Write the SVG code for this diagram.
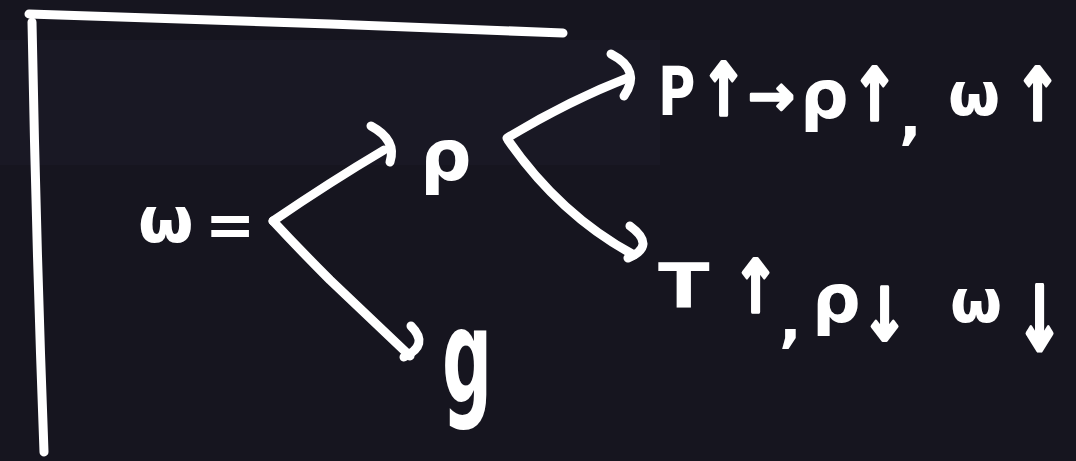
<svg xmlns="http://www.w3.org/2000/svg" width="1076" height="461" viewBox="0 0 1076 461">
<style>
.ln{fill:none;stroke:#ffffff;stroke-width:9;stroke-linecap:round;stroke-linejoin:round}
.t{fill:#ffffff;font-family:"DejaVu Sans","Liberation Sans",sans-serif;font-weight:bold}
.ar{stroke:#ffffff;stroke-width:2.5;stroke-linejoin:round}
</style>
<rect width="1076" height="461" fill="#16151f"/>
<rect x="0" y="40" width="660" height="125" fill="#191824"/>
<g id="frame">
<path class="ln" d="M29,14 L330,24 L563,33"/>
<path class="ln" d="M32,22 Q36,240 44,452"/>
</g>
<g id="connectors">
<path class="ln" d="M273,221 Q330,182 384,150"/>
<path class="ln" d="M371,126 Q397,140 390,162"/>
<path class="ln" d="M273,221 Q300,250 330,280 L410,356"/>
<path class="ln" d="M411,326 Q430,345 404,357"/>
<path class="ln" d="M507,138 Q570,100 630,77"/>
<path class="ln" d="M611,54 Q642,70 624,96"/>
<path class="ln" d="M508,140 Q560,215 634,255"/>
<path class="ln" d="M630,226 Q657,246 628,258"/>
</g>
<g id="omega">
<text class="t" x="138" y="242" font-size="64">ω</text>
<text class="t" x="205" y="246" font-size="60">=</text>
</g>
<g id="rho">
<text class="t" x="420" y="180" font-size="72">ρ</text>
</g>
<g id="gravity">
<text class="t" x="0" y="0" font-size="100" transform="translate(442,402) scale(0.7,1.3)">g</text>
</g>
<g id="high-pressure">
<text class="t" font-size="68" transform="translate(658,115) scale(0.75,1)">P</text>
<text class="t ar" font-size="56" transform="translate(700,115) scale(1,1.3)">↑</text>
<text class="t ar" font-size="56" x="748" y="115">→</text>
<text class="t" font-size="68" x="800" y="118">ρ</text>
<text class="t ar" font-size="56" transform="translate(851,120) scale(1,1.3)">↑</text>
<text class="t" font-size="60" x="899" y="137">,</text>
<text class="t" font-size="60" x="948" y="115">ω</text>
<text class="t ar" font-size="56" transform="translate(1014,120) scale(1,1.3)">↑</text>
</g>
<g id="high-temperature">
<text class="t" font-size="63" transform="translate(658,308) scale(1.2,1)">T</text>
<text class="t ar" font-size="56" transform="translate(732,312) scale(1,1.3)">↑</text>
<text class="t" font-size="60" x="779" y="340">,</text>
<text class="t" font-size="68" x="812" y="322">ρ</text>
<text class="t ar" font-size="56" transform="translate(861,340) scale(1,1.3)">↓</text>
<text class="t" font-size="60" x="950" y="322">ω</text>
<text class="t ar" font-size="56" transform="translate(1016,350) scale(1,1.6)">↓</text>
</g>
</svg>
